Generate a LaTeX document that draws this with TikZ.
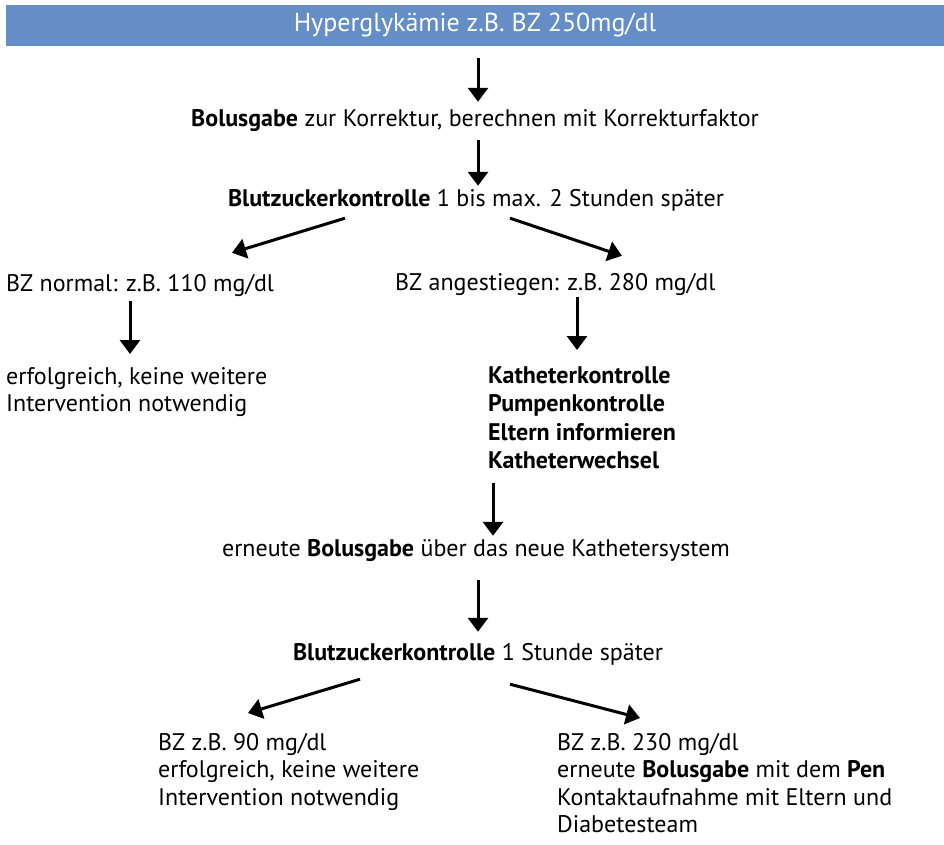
\documentclass[tikz,border=0pt]{standalone}
\usepackage{fontspec}
\setmainfont{PT Sans}
\usetikzlibrary{arrows.meta}
\definecolor{balken}{RGB}{100,142,197}
\newcommand{\erstzeile}{\rule{0pt}{19pt}}
\newcommand{\letztzeile}{\rule[-6pt]{0pt}{6pt}}
\tikzset{
  txt/.style={inner sep=0pt, text height=17pt, text depth=6pt, anchor=base, font=\fontsize{24}{27}\selectfont},
  block/.style={inner sep=0pt, align=left, anchor=north west, font=\fontsize{24}{27.5}\selectfont},
  pfeil/.style={line width=3pt, -{Triangle[width=20pt,length=14pt]}}
}
\begin{document}
\begin{tikzpicture}[x=1pt,y=-1pt]
    \useasboundingbox (0,0) rectangle (944,845);

    % Kopfbalken
    \node[fill=balken, text=white, minimum width=938pt, minimum height=41pt, inner sep=0pt,
          font=\fontsize{26}{30}\selectfont] (top) at (475,25.5) {Hyperglykämie z.B. BZ 250mg/dl};

    % erster Durchgang
    \node[txt] (bolus) at (475,127) {\textbf{Bolusgabe} zur Korrektur, berechnen mit Korrekturfaktor};
    \node[txt] (kontrolle) at (476,206) {\textbf{Blutzuckerkontrolle} 1 bis max. 2 Stunden später};
    \node[txt, anchor=base west] (normal) at (6,291) {BZ normal: z.B. 110 mg/dl};
    \node[txt, anchor=base west] (angest) at (395,290) {BZ angestiegen: z.B. 280 mg/dl};
    \node[block] (erfolg) at (6,365) {\erstzeile erfolgreich, keine weitere\\Intervention notwendig};
    \node[block, font=\fontsize{24}{28.4}\selectfont\bfseries] (massn) at (488,364)
        {\erstzeile Katheterkontrolle\\Pumpenkontrolle\\Eltern informieren\\Katheterwechsel\letztzeile};

    % zweiter Durchgang
    \node[txt] (erneut) at (476,556) {erneute \textbf{Bolusgabe} über das neue Kathetersystem};
    \node[txt] (kontrolle2) at (478,660) {\textbf{Blutzuckerkontrolle} 1 Stunde später};
    \node[block] (gut) at (158,731) {\erstzeile BZ z.B. 90 mg/dl\\erfolgreich, keine weitere\\Intervention notwendig};
    \node[block] (hoch) at (557,731)
        {\erstzeile BZ z.B. 230 mg/dl\\erneute \textbf{Bolusgabe} mit dem \textbf{Pen}\\Kontaktaufnahme mit Eltern und\\Diabetesteam};

    % Pfeile
    \draw[pfeil] ([xshift=3pt,yshift=-12pt]top.south) -- ([xshift=3pt,yshift=8pt]bolus.north);
    \draw[pfeil] ([xshift=3pt,yshift=-7pt]bolus.south) -- ([xshift=2pt,yshift=3pt]kontrolle.north);
    \draw[pfeil] ([xshift=-131pt,yshift=-6pt]kontrolle.south) -- ([xshift=226pt,yshift=21pt]normal.north west);
    \draw[pfeil] ([xshift=34pt,yshift=-6pt]kontrolle.south) -- ([xshift=227pt,yshift=17pt]angest.north west);
    \draw[pfeil] ([xshift=124pt,yshift=-4pt]normal.south west) -- ([xshift=124pt,yshift=11pt]erfolg.north west);
    \draw[pfeil] ([xshift=182pt,yshift=-1pt]angest.south west) -- ([xshift=89pt,yshift=14pt]massn.north west);
    \draw[pfeil] ([xshift=5pt,yshift=-8pt]massn.south west) -- ([xshift=17pt,yshift=3pt]erneut.north);
    \draw[pfeil] ([xshift=2pt,yshift=-18pt]erneut.south) -- ([xshift=0pt,yshift=11pt]kontrolle2.north);
    \draw[pfeil] ([xshift=-118pt,yshift=-13pt]kontrolle2.south) -- ([xshift=90pt,yshift=18pt]gut.north west);
    \draw[pfeil] ([xshift=32pt,yshift=-18pt]kontrolle2.south) -- ([xshift=83pt,yshift=13pt]hoch.north west);

\end{tikzpicture}
\end{document}
